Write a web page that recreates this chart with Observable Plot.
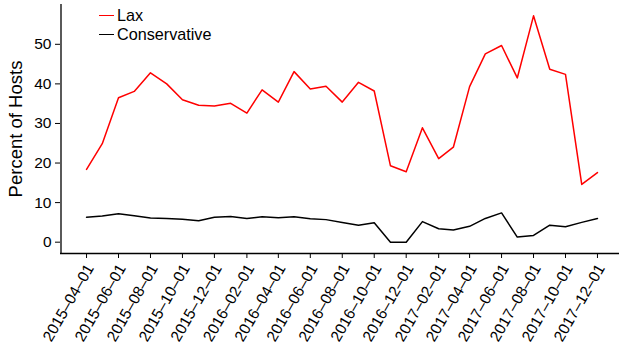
<!DOCTYPE html>
<html><head><meta charset="utf-8">
<script src="https://cdn.jsdelivr.net/npm/d3@7"></script>
<script src="https://cdn.jsdelivr.net/npm/@observablehq/plot@0.6"></script>
<style>
html,body{margin:0;padding:0;background:#fff;}
#wrap{position:relative;width:619px;height:353px;font-family:"Liberation Sans",Arial,Helvetica,sans-serif;overflow:hidden;}
.leg{position:absolute;left:99px;font-size:16.2px;line-height:18px;color:#000;display:flex;align-items:center;white-space:nowrap;}
.leg .sw{display:inline-block;width:15px;height:0;border-top:1.6px solid;margin-right:3px;}
</style></head><body><div id="wrap"></div>
<script>
const months = ["2015-04-01","2015-05-01","2015-06-01","2015-07-01","2015-08-01","2015-09-01","2015-10-01","2015-11-01","2015-12-01",
"2016-01-01","2016-02-01","2016-03-01","2016-04-01","2016-05-01","2016-06-01","2016-07-01","2016-08-01","2016-09-01","2016-10-01","2016-11-01","2016-12-01",
"2017-01-01","2017-02-01","2017-03-01","2017-04-01","2017-05-01","2017-06-01","2017-07-01","2017-08-01","2017-09-01","2017-10-01","2017-11-01","2017-12-01"];
const lax = [18.4,24.9,36.5,38.1,42.8,40.0,36.0,34.6,34.4,35.1,32.6,38.5,35.4,43.1,38.7,39.4,35.4,40.4,38.2,19.3,17.8,28.9,21.1,24.0,39.3,47.6,49.7,41.5,57.2,43.7,42.4,14.6,17.6];
const conservative = [6.3,6.6,7.2,6.7,6.1,6.0,5.8,5.4,6.3,6.5,6.0,6.4,6.2,6.4,5.9,5.7,5.0,4.3,4.9,0.0,0.0,5.2,3.4,3.1,4.0,6.0,7.4,1.3,1.7,4.3,3.9,5.0,6.0];
const seriesNames = ["Lax","Conservative"];
const seriesColors = ["#ff0000","#000000"];
const yTicks = [0,10,20,30,40,50];
const xTickLabels = months.filter((d,i)=>i%2===0);
const yLabel = "Percent of Hosts";

const parse = d3.utcParse("%Y-%m-%d");
const fmt = d => d3.utcFormat("%Y-%m-%d")(d).replace(/-/g, "\u2013");
const seriesValues = [lax, conservative];
const data = [];
seriesNames.forEach((s,k)=>months.forEach((m,i)=>data.push({date:parse(m), value:seriesValues[k][i], series:s})));
const x0 = parse(months[0]), x1 = parse(months[months.length-1]);
const span = x1 - x0;
const xDomain = [new Date(+x0 - 0.05*span), new Date(+x1 + 0.05*span)];
const allVals = lax.concat(conservative);
const vmin = Math.min(...allVals), vmax = Math.max(...allVals);
const yDomain = [vmin - 0.05*(vmax-vmin), vmax + 0.05*(vmax-vmin)];
const font = "\"Liberation Sans\",Arial,Helvetica,sans-serif";
const xTicks = xTickLabels.map(parse);

const chart = Plot.plot({
  width: 619, height: 353,
  marginLeft: 60, marginRight: 0, marginTop: 4, marginBottom: 100,
  style: {fontFamily: font, fontSize: "15.5px", color: "#000", background: "#fff", overflow: "visible"},
  x: {type: "utc", domain: xDomain, range: [60.5, 622.5]},
  y: {domain: yDomain},
  color: {domain: seriesNames, range: seriesColors},
  marks: [
    Plot.axisY({ticks: yTicks, tickSize: 5, tickPadding: 4, label: yLabel, labelAnchor: "center", labelArrow: "none", labelOffset: 52, fontSize: 15.5}),
    Plot.axisX({ticks: xTicks, tickSize: 5, tickFormat: () => "", label: null}),
    Plot.axisX({ticks: xTicks, tickSize: 0, tickPadding: 9, tickFormat: fmt, tickRotate: -60, label: null, fontSize: 15.5, dx: 3.5, dy: 3}),
    Plot.ruleX([xDomain[0]], {stroke: "#000", strokeWidth: 1.3}),
    Plot.ruleY([yDomain[0]], {stroke: "#000", strokeWidth: 1.3}),
    Plot.lineY(data, {x: "date", y: "value", stroke: "series", strokeWidth: 1.5})
  ]
});
const wrap = document.getElementById("wrap");
wrap.appendChild(chart);
const lab = chart.querySelector('[aria-label="y-axis label"] text');
if (lab) lab.style.fontSize = "18.5px";
seriesNames.forEach((s,k)=>{
  const d = document.createElement("div");
  d.className = "leg";
  d.style.top = (6 + 19*k) + "px";
  d.innerHTML = `<span class="sw" style="border-color:${seriesColors[k]}"></span>${s}`;
  wrap.appendChild(d);
});
</script>
</body></html>
